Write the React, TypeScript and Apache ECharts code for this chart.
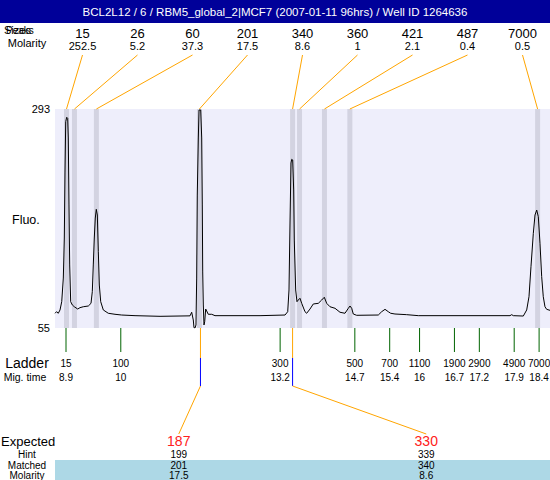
import React, { useEffect, useRef } from "react";
import * as echarts from "echarts";

const chartTitle = "BCL2L12 / 6 / RBM5_global_2|MCF7 (2007-01-11 96hrs) / Well ID 1264636";
const yTicks = [55, 293];
const xRange = [8.679, 18.619];

const peakSizes = [15, 26, 60, 201, 340, 360, 421, 487, 7000];
const peakMolarity = [252.5, 5.2, 37.3, 17.5, 8.6, 1, 2.1, 0.4, 0.5];
const peakTimes = [8.91, 9.07, 9.51, 11.58, 13.45, 13.59, 14.09, 14.6, 18.37];

const ladderSizes = [15, 100, 300, 500, 700, 1100, 1900, 2900, 4900, 7000];
const ladderTimes = [8.9, 10, 13.2, 14.7, 15.4, 16, 16.7, 17.2, 17.9, 18.4];

const expectedSizes = [187, 330];
const hintSizes = [199, 339];
const matchedSizes = [201, 340];
const matchedMolarity = [17.5, 8.6];
const matchedTimes = [11.6, 13.45];

const traceTime = [
  8.68, 8.71, 8.745, 8.78, 8.814, 8.846, 8.866, 8.88, 8.894, 8.914, 8.934, 8.946, 8.96, 8.974, 8.994,
  9.027, 9.067, 9.135, 9.181, 9.247, 9.348, 9.402, 9.428, 9.448, 9.468, 9.488, 9.508, 9.529, 9.549,
  9.569, 9.597, 9.649, 9.749, 9.884, 10.018, 10.286, 10.788, 11.39, 11.424, 11.456, 11.47, 11.49,
  11.51, 11.524, 11.536, 11.557, 11.571, 11.605, 11.625, 11.637, 11.645, 11.657, 11.671, 11.685,
  11.705, 11.725, 11.757, 11.826, 11.892, 12.796, 13.298, 13.352, 13.378, 13.398, 13.418, 13.432,
  13.452, 13.472, 13.484, 13.512, 13.538, 13.564, 13.598, 13.633, 13.699, 13.733, 13.799, 13.866,
  13.966, 14.034, 14.087, 14.135, 14.201, 14.302, 14.402, 14.502, 14.569, 14.603, 14.637, 14.669,
  14.737, 15.171, 15.239, 15.306, 15.372, 15.42, 15.506, 15.741, 15.974, 17.816, 17.85, 17.882,
  18.083, 18.151, 18.197, 18.237, 18.284, 18.318, 18.352, 18.384, 18.418, 18.452, 18.484, 18.518,
  18.552, 18.619,
];
const traceFluo = [
  71, 72.7, 71, 74.6, 83.6, 109.3, 152.8, 224.5, 279.2, 284, 282.9, 261.5, 188.7, 123.5, 83.6,
  80, 78.1, 75.6, 77.1, 78.1, 78.9, 81.8, 94.5, 123.5, 152.8, 174.5, 184, 177.8, 137.9,
  101.7, 83.6, 74.6, 71, 69.9, 69.1, 68.4, 67.7, 68.2, 72.1, 63.7, 55.3, 55,
  58.3, 109.3, 199.5, 261.5, 291.9, 291.9, 261.5, 188.7, 115.9, 80, 58.3, 61.8,
  75.6, 73.5, 69.9, 69.9, 68.4, 68.4, 69.1, 72.7, 96.3, 169.1, 234.3, 238.3,
  237.6, 205, 150.6, 96.3, 83.6, 85.4, 87.3, 81.8, 72.7, 71, 75.6, 81.1,
  81.8, 85.4, 88.4, 81.8, 78.1, 76.4, 72.1, 71, 76.4, 78.9, 76.4, 70.2,
  68.8, 69.1, 72.7, 75.3, 72.7, 71, 70.2, 69.5, 68.4, 68.4, 69.5, 68.4,
  68, 74.6, 89, 121.6, 157.9, 177.8, 183.2, 176, 147.1, 110.8, 89, 78.1,
  75.3, 74.2,
];

const FONT = '"Liberation Sans", Arial, sans-serif';
const f = (s: number) => `${s}px ${FONT}`;
const ORANGE = "#FFA500";

function txt(x: number, y: number, text: string, size: number, fill = "#000", align = "center") {
  return {
    type: "text",
    x,
    y,
    style: { text, fill, font: f(size), align, verticalAlign: "middle" },
  };
}

export default function App() {
  const ref = useRef<HTMLDivElement>(null);
  useEffect(() => {
    if (!ref.current) return;
    const chart = echarts.init(ref.current, null, { renderer: "svg" });
    const option: any = {
      animation: false,
      backgroundColor: "#fff",
      grid: {
        left: 55,
        right: 0,
        top: 109,
        bottom: 152,
        show: true,
        backgroundColor: "#EEEEFB",
        borderWidth: 0,
      },
      xAxis: {
        type: "value",
        min: xRange[0],
        max: xRange[1],
        show: false,
      },
      yAxis: {
        type: "value",
        min: yTicks[0],
        max: yTicks[1],
        interval: yTicks[1] - yTicks[0],
        axisLine: { show: false },
        axisTick: { show: false },
        splitLine: { show: false },
        axisLabel: { color: "#000", fontSize: 11, fontFamily: FONT, margin: 5 },
      },
      graphic: [
        { type: "rect", shape: { x: 0, y: 0, width: 550, height: 23 }, style: { fill: "#000099" } },
        txt(275, 12, chartTitle, 11.5, "#fff"),
        txt(4, 30, "Sizes", 11, "#000", "left"),
        txt(6, 30, "Peaks", 10, "#000", "left"),
        txt(27, 43, "Molarity", 11),
        txt(12, 220, "Fluo.", 12.5, "#000", "left"),
        txt(27, 363, "Ladder", 14),
        txt(25, 377, "Mig. time", 10.5),
        { type: "rect", shape: { x: 55, y: 460, width: 495, height: 20 }, style: { fill: "#ADD8E6" } },
        txt(1, 441, "Expected", 13, "#000", "left"),
        txt(27, 454, "Hint", 10),
        txt(27, 465, "Matched", 10),
        txt(27, 475, "Molarity", 10),
      ],
      series: [
        {
          type: "custom",
          z: 1,
          clip: false,
          data: peakTimes.map((t) => [t]),
          renderItem: (params: any, api: any) => {
            const cs = params.coordSys;
            const x = api.coord([api.value(0), yTicks[0]])[0];
            return {
              type: "rect",
              shape: { x: x - 2.5, y: cs.y, width: 5, height: cs.height },
              style: { fill: "#D3D3E1" },
            };
          },
        },
        {
          type: "line",
          z: 3,
          data: traceTime.map((t, i) => [t, traceFluo[i]]),
          showSymbol: false,
          symbol: "none",
          lineStyle: { color: "#000", width: 1 },
        },
        {
          type: "custom",
          z: 4,
          clip: false,
          data: peakTimes.map((t, i) => [t, peakSizes[i], peakMolarity[i]]),
          renderItem: (params: any, api: any) => {
            const cs = params.coordSys;
            const i = params.dataIndex;
            const n = peakSizes.length;
            const sx = cs.x + (cs.width * (i + 0.5)) / n;
            const bx = api.coord([api.value(0), yTicks[0]])[0];
            return {
              type: "group",
              children: [
                {
                  type: "line",
                  shape: { x1: sx, y1: 55, x2: bx, y2: cs.y },
                  style: { stroke: ORANGE, lineWidth: 1 },
                },
                txt(sx, 33, String(api.value(1)), 13),
                txt(sx, 46, String(api.value(2)), 11),
              ],
            };
          },
        },
        {
          type: "custom",
          z: 4,
          clip: false,
          data: ladderTimes.map((t, i) => [t, ladderSizes[i]]),
          renderItem: (params: any, api: any) => {
            const cs = params.coordSys;
            const bottom = cs.y + cs.height;
            const x = api.coord([api.value(0), yTicks[0]])[0];
            return {
              type: "group",
              children: [
                {
                  type: "line",
                  shape: { x1: x, y1: bottom, x2: x, y2: bottom + 24 },
                  style: { stroke: "#006400", lineWidth: 1 },
                },
                txt(x, 363, String(api.value(1)), 10),
                txt(x, 377, String(api.value(0)), 10),
              ],
            };
          },
        },
        {
          type: "custom",
          z: 4,
          clip: false,
          data: matchedTimes.map((t, i) => [t, expectedSizes[i], hintSizes[i], matchedSizes[i], matchedMolarity[i]]),
          renderItem: (params: any, api: any) => {
            const cs = params.coordSys;
            const i = params.dataIndex;
            const n = matchedTimes.length;
            const bottom = cs.y + cs.height;
            const sx = cs.x + (cs.width * (i + 0.5)) / n;
            const bx = api.coord([api.value(0), yTicks[0]])[0];
            return {
              type: "group",
              children: [
                {
                  type: "line",
                  shape: { x1: bx, y1: bottom, x2: bx, y2: bottom + 30 },
                  style: { stroke: ORANGE, lineWidth: 1 },
                },
                {
                  type: "line",
                  shape: { x1: bx, y1: bottom + 30, x2: bx, y2: bottom + 58 },
                  style: { stroke: "#0000FF", lineWidth: 1 },
                },
                {
                  type: "line",
                  shape: { x1: bx, y1: bottom + 58, x2: sx, y2: 434 },
                  style: { stroke: ORANGE, lineWidth: 1 },
                },
                txt(sx, 441, String(api.value(1)), 14, "#FF2020"),
                txt(sx, 454, String(api.value(2)), 10),
                txt(sx, 465, String(api.value(3)), 10),
                txt(sx, 475, String(api.value(4)), 10),
              ],
            };
          },
        },
      ],
    };
    chart.setOption(option);
    return () => chart.dispose();
  }, []);
  return (
    <div
      ref={ref}
      style={{ position: "fixed", left: 0, top: 0, width: 550, height: 480 }}
    />
  );
}
